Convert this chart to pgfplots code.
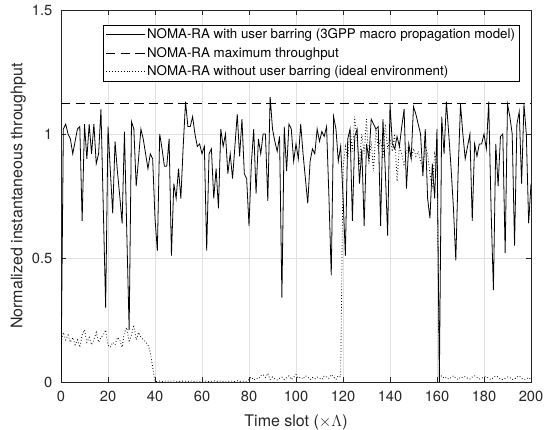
\documentclass[border=0pt]{standalone}
\usepackage{fontspec}
\setmainfont{TeX Gyre Heros}
\usepackage{pgfplots}
\usepackage{pgfplotstable}
\pgfplotsset{compat=1.18}
\definecolor{axgray}{RGB}{38,38,38}
\definecolor{gridgray}{RGB}{225,225,225}

\pgfplotstableread{
x y
0 0.00
1 1.02
2 1.04
3 1.00
4 0.98
5 0.92
6 0.97
7 1.02
8 1.03
9 0.65
10 1.04
11 0.90
12 1.04
13 0.92
14 1.04
15 0.88
16 0.92
17 1.10
18 0.70
19 0.30
20 1.03
21 0.85
22 0.68
23 0.97
24 0.85
25 0.75
26 0.64
27 1.01
28 0.60
29 0.21
30 1.05
31 1.02
32 0.79
33 0.90
34 1.02
35 0.98
36 0.92
37 0.86
38 0.92
39 0.90
40 0.66
41 0.53
42 1.00
43 0.94
44 0.87
45 0.87
46 0.98
47 0.51
48 0.80
49 0.74
50 0.86
51 0.74
52 0.95
53 1.13
54 1.03
55 1.03
56 1.07
57 1.00
58 0.95
59 0.96
60 0.92
61 0.95
62 0.53
63 0.92
64 0.94
65 0.74
66 0.86
67 0.70
68 1.02
69 0.95
70 1.00
71 0.84
72 0.92
73 0.82
74 0.95
75 1.08
76 0.91
77 1.06
78 0.84
79 0.82
80 0.63
81 0.88
82 1.02
83 0.76
84 0.98
85 0.92
86 1.00
87 1.00
88 0.73
89 1.15
90 1.02
91 0.97
92 0.93
93 0.99
94 0.34
95 1.03
96 0.85
97 1.04
98 1.02
99 0.89
100 0.96
101 0.90
102 1.04
103 0.92
104 0.82
105 0.72
106 0.89
107 0.94
108 0.92
109 1.02
110 0.97
111 1.01
112 0.99
113 1.03
114 0.75
115 0.43
116 1.07
117 1.02
118 0.89
119 0.95
120 0.75
121 0.51
122 0.98
123 1.02
124 0.65
125 0.99
126 1.02
127 0.80
128 0.94
129 0.63
130 0.96
131 0.90
132 1.06
133 1.04
134 1.02
135 1.03
136 0.63
137 1.06
138 0.85
139 0.59
140 1.12
141 0.96
142 0.94
143 0.99
144 0.95
145 1.03
146 1.10
147 0.78
148 0.96
149 0.90
150 1.11
151 1.08
152 1.04
153 1.00
154 0.83
155 1.02
156 0.74
157 0.66
158 0.88
159 0.74
160 1.02
161 0.00
162 1.07
163 0.92
164 1.13
165 1.00
166 0.86
167 0.70
168 0.49
169 0.85
170 1.12
171 1.00
172 0.90
173 0.95
174 1.00
175 0.65
176 0.96
177 0.91
178 0.96
179 0.96
180 1.00
181 0.94
182 1.13
183 0.70
184 0.37
185 0.96
186 0.79
187 0.99
188 1.00
189 0.52
190 1.12
191 1.07
192 1.00
193 0.55
194 1.04
195 1.09
196 0.80
197 1.12
198 1.00
199 0.64
200 0.80
}\barring

\pgfplotstableread{
x y
0 0.16
1 0.20
2 0.17
3 0.19
4 0.16
5 0.18
6 0.15
7 0.17
8 0.14
9 0.19
10 0.21
11 0.16
12 0.18
13 0.15
14 0.17
15 0.20
16 0.16
17 0.18
18 0.19
19 0.21
20 0.15
21 0.14
22 0.16
23 0.15
24 0.18
25 0.17
26 0.14
27 0.20
28 0.22
29 0.16
30 0.19
31 0.23
32 0.17
33 0.20
34 0.18
35 0.17
36 0.16
37 0.15
38 0.12
39 0.06
40 0.003
41 0.002
42 0.004
43 0.002
44 0.003
45 0.005
46 0.002
47 0.003
48 0.004
49 0.002
50 0.003
51 0.002
52 0.004
53 0.003
54 0.002
55 0.005
56 0.003
57 0.002
58 0.004
59 0.003
60 0.002
61 0.003
62 0.004
63 0.002
64 0.003
65 0.005
66 0.002
67 0.003
68 0.004
69 0.002
70 0.003
71 0.002
72 0.004
73 0.003
74 0.002
75 0.005
76 0.003
77 0.002
78 0.004
79 0.003
80 0.010
81 0.020
82 0.008
83 0.015
84 0.012
85 0.025
86 0.030
87 0.018
88 0.035
89 0.010
90 0.020
91 0.012
92 0.008
93 0.015
94 0.020
95 0.010
96 0.018
97 0.025
98 0.010
99 0.020
100 0.030
101 0.015
102 0.020
103 0.012
104 0.025
105 0.020
106 0.010
107 0.018
108 0.012
109 0.020
110 0.015
111 0.010
112 0.025
113 0.020
114 0.015
115 0.030
116 0.020
117 0.010
118 0.025
119 0.020
120 0.86
121 0.95
122 0.90
123 1.02
124 0.93
125 1.07
126 0.97
127 0.88
128 1.00
129 0.92
130 1.06
131 0.88
132 0.97
133 0.85
134 1.02
135 0.94
136 0.98
137 0.90
138 1.04
139 0.94
140 0.98
141 0.93
142 1.00
143 0.81
144 0.95
145 0.92
146 0.87
147 0.93
148 0.95
149 0.90
150 0.94
151 0.91
152 0.93
153 0.89
154 0.86
155 0.95
156 0.92
157 0.84
158 0.78
159 0.92
160 0.88
161 0.020
162 0.025
163 0.015
164 0.020
165 0.012
166 0.018
167 0.025
168 0.015
169 0.010
170 0.020
171 0.018
172 0.022
173 0.015
174 0.012
175 0.020
176 0.025
177 0.018
178 0.012
179 0.015
180 0.020
181 0.022
182 0.015
183 0.010
184 0.018
185 0.025
186 0.020
187 0.012
188 0.010
189 0.015
190 0.020
191 0.018
192 0.010
193 0.012
194 0.020
195 0.025
196 0.015
197 0.010
198 0.012
199 0.018
200 0.010
}\ideal

\begin{document}
\begin{tikzpicture}
\begin{axis}[
  scale only axis,
  width=352.5pt, height=279pt,
  xmin=0, xmax=200, ymin=0, ymax=1.5,
  xtick={0,20,...,200},
  ytick={0,0.5,1,1.5},
  yticklabels={0,0.5,1,1.5},
  tick align=inside,
  tick pos=both,
  major tick length=3.5pt,
  grid=major,
  grid style={gridgray, line width=0.5pt},
  axis line style={axgray, line width=0.6pt},
  every tick/.style={axgray, line width=0.5pt},
  tick label style={font=\fontsize{11}{13}\selectfont, text=axgray},
  xticklabel style={yshift=-3.5pt},
  yticklabel style={xshift=-3pt},
  /pgf/number format/assume math mode=true,
  every axis x label/.style={at={(rel axis cs:0.5,0)}, yshift=-30pt, anchor=center},
  every axis y label/.style={at={(rel axis cs:0,0.5)}, xshift=-32pt, rotate=90, anchor=center},
  xlabel={Time slot ($\times\Lambda$)},
  ylabel={Normalized instantaneous throughput},
  label style={font=\fontsize{12}{14}\selectfont, text=axgray},
  legend style={at={(1,1)}, anchor=north east, xshift=-8.25pt, yshift=-11.25pt,
    draw=black, line width=0.5pt, fill=white,
    font=\fontsize{10}{12}\selectfont, inner xsep=2pt, inner ysep=1pt,
    nodes={inner sep=1.5pt},
    row sep=2pt},
  legend cell align=left,
  legend image code/.code={\draw[#1] (0pt,0pt) -- (29pt,0pt);},
]
\addplot[black, line width=0.6pt] table[x=x,y=y] {\barring};
\addlegendentry{NOMA-RA with user barring (3GPP macro propagation model)}
\addplot[black, line width=0.6pt, dash pattern=on 7pt off 4pt] coordinates {(0,1.125) (200,1.125)};
\addlegendentry{NOMA-RA maximum throughput}
\addplot[black, line width=0.6pt, dash pattern=on 0.6pt off 1.6pt] table[x=x,y=y] {\ideal};
\addlegendentry{NOMA-RA without user barring (ideal environment)}
\end{axis}
\pgfresetboundingbox
\path ([shift={(-45.75pt,-36pt)}]current axis.south west) rectangle ([shift={(12.75pt,7.5pt)}]current axis.north east);
\end{tikzpicture}
\end{document}
